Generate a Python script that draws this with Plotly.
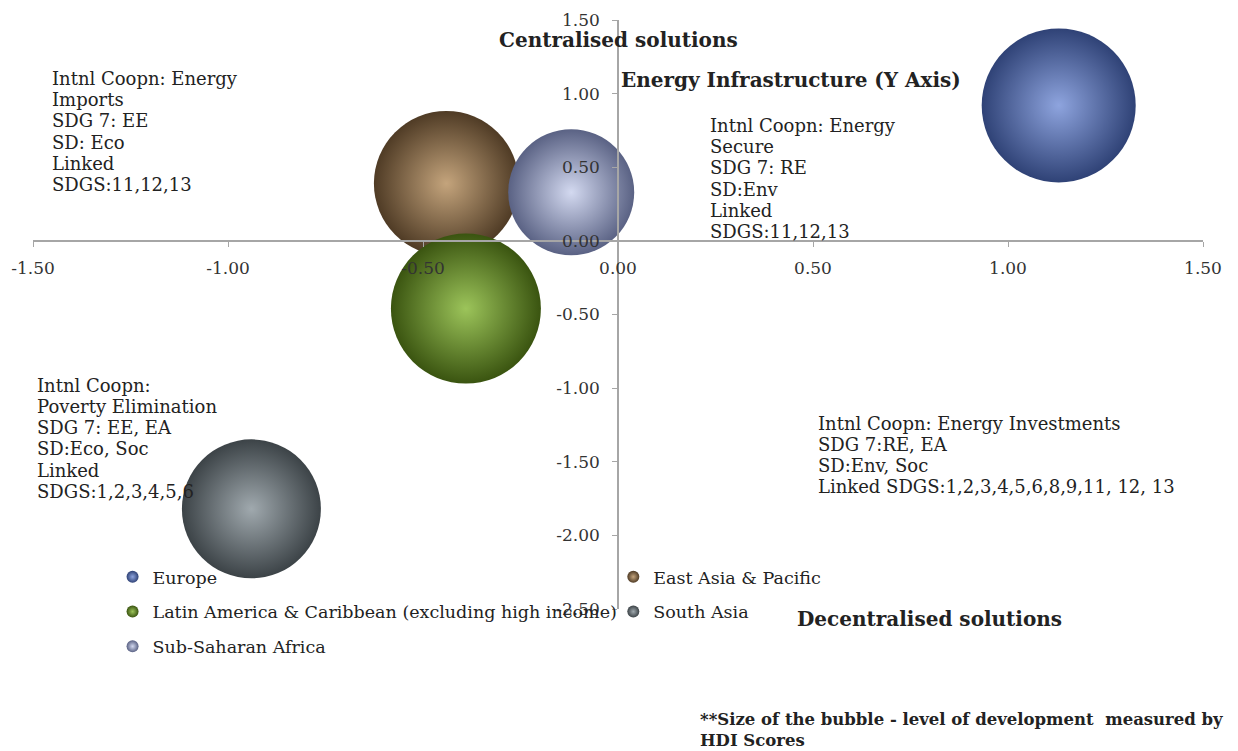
import plotly.graph_objects as go

# Regional positions on the two policy axes; bubble size reflects HDI level
regions = [
    "Europe",
    "East Asia & Pacific",
    "Latin America & Caribbean (excluding high income)",
    "South Asia",
    "Sub-Saharan Africa",
]
x_vals = [1.13, -0.44, -0.39, -0.94, -0.12]
y_vals = [0.92, 0.39, -0.46, -1.82, 0.33]
bubble_size = [154, 145, 150, 139, 126]

x_ticks = [-1.5, -1.0, -0.5, 0.0, 0.5, 1.0, 1.5]
y_ticks = [-2.5, -2.0, -1.5, -1.0, -0.5, 0.0, 0.5, 1.0, 1.5]

# Quadrant descriptions: (left x, first-line y, lines)
quadrant_notes = [
    (-1.456, 1.103, ["Intnl Coopn: Energy", "Imports", "SDG 7: EE", "SD: Eco",
                     "Linked", "SDGS:11,12,13"]),
    (0.231, 0.784, ["Intnl Coopn: Energy", "Secure", "SDG 7: RE", "SD:Env",
                    "Linked", "SDGS:11,12,13"]),
    (-1.495, -0.981, ["Intnl Coopn:", "Poverty Elimination", "SDG 7: EE, EA",
                      "SD:Eco, Soc", "Linked", "SDGS:1,2,3,4,5,6"]),
    (0.508, -1.239, ["Intnl Coopn: Energy Investments", "SDG 7:RE, EA", "SD:Env, Soc",
                     "Linked SDGS:1,2,3,4,5,6,8,9,11, 12, 13"]),
]
LINE_STEP = 0.144  # vertical distance between note lines, in y-axis units

# (edge colour, centre highlight) for each sphere
sphere_colors = {
    "Europe": ("#2f4276", "#8ea4de"),
    "East Asia & Pacific": ("#4f3b25", "#c4a47c"),
    "Latin America & Caribbean (excluding high income)": ("#3a5410", "#9cc45a"),
    "South Asia": ("#3c4347", "#a0a9ae"),
    "Sub-Saharan Africa": ("#5a6284", "#d3d9f0"),
}
legend_of = {
    "Europe": "legend",
    "Latin America & Caribbean (excluding high income)": "legend",
    "Sub-Saharan Africa": "legend",
    "East Asia & Pacific": "legend2",
    "South Asia": "legend2",
}

SERIF = "DejaVu Serif"
TEXT = "#222222"
AXIS = "#a6a6a6"

fig = go.Figure()
for name, x, y, s in zip(regions, x_vals, y_vals, bubble_size):
    edge, centre = sphere_colors[name]
    fig.add_trace(go.Scatter(
        x=[x], y=[y], mode="markers", name=name,
        legend=legend_of[name], legendgroup=name,
        marker=dict(
            size=[s], sizemode="diameter", sizeref=1,
            color=edge, opacity=1,
            gradient=dict(type="radial", color=centre),
            line=dict(width=0),
        ),
        hoverinfo="name",
    ))

tick_font = dict(family=SERIF, size=17, color="#333333")
fig.update_xaxes(
    range=[-1.5, 1.5], tickvals=x_ticks, ticktext=[f"{v:.2f}" for v in x_ticks],
    showgrid=False, zeroline=False, showline=True, linecolor=AXIS, linewidth=1.5,
    ticks="outside", ticklen=5, tickcolor=AXIS, tickfont=tick_font,
    ticklabelstandoff=7, automargin=False,
    anchor="free", position=0.625,
)
fig.update_yaxes(
    range=[-2.5, 1.5], tickvals=y_ticks, ticktext=[f"{v:.2f}" for v in y_ticks],
    showgrid=False, zeroline=False, showline=True, linecolor=AXIS, linewidth=1.5,
    ticks="outside", ticklen=5, tickcolor=AXIS, tickfont=tick_font,
    ticklabelstandoff=9, automargin=False,
    anchor="free", position=0.5,
)

note_font = dict(family=SERIF, size=18, color=TEXT)
bold_font = dict(family=SERIF, size=20, color=TEXT)
annotations = []
for x0, y0, lines in quadrant_notes:
    for i, line in enumerate(lines):
        annotations.append(dict(
            x=x0, y=y0 - i * LINE_STEP, xref="x", yref="y", text=line,
            showarrow=False, xanchor="left", yanchor="middle", font=note_font,
        ))
annotations += [
    dict(x=0.0, y=1.361, xref="x", yref="y", text="<b>Centralised solutions</b>",
         showarrow=False, xanchor="center", yanchor="middle", font=bold_font),
    dict(x=0.002, y=1.09, xref="x", yref="y", text="<b>Energy Infrastructure (Y Axis)</b>",
         showarrow=False, xanchor="left", yanchor="middle", font=bold_font),
    dict(x=0.651, y=-0.017, xref="paper", yref="paper", text="<b>Decentralised solutions</b>",
         showarrow=False, xanchor="left", yanchor="middle", font=bold_font),
    dict(x=0.568, y=-0.168, xref="paper", yref="paper",
         text="<b>**Size of the bubble - level of development  measured by<br>HDI Scores</b>",
         showarrow=False, xanchor="left", yanchor="top", align="left",
         font=dict(family=SERIF, size=16.5, color=TEXT)),
]

legend_style = dict(
    xanchor="left", yanchor="top", bgcolor="rgba(0,0,0,0)",
    font=dict(family=SERIF, size=17.5, color=TEXT),
    itemsizing="constant", tracegroupgap=9, orientation="v",
)

fig.update_layout(
    width=1238, height=751,
    margin=dict(l=33, r=35, t=20, b=142),
    paper_bgcolor="white", plot_bgcolor="white",
    font=dict(family=SERIF, color=TEXT),
    annotations=annotations,
    legend=dict(x=0.068, y=0.085, **legend_style),
    legend2=dict(x=0.496, y=0.085, **legend_style),
)

fig.write_html("out.html")
